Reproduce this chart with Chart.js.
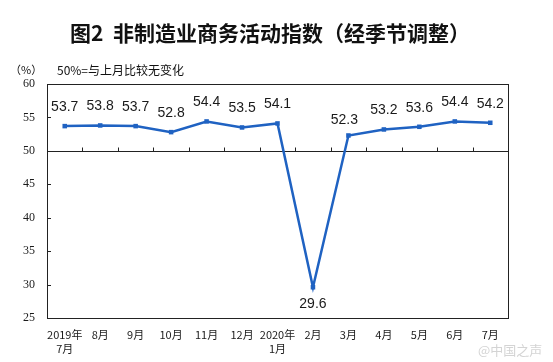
<!DOCTYPE html>
<html>
<head>
<meta charset="utf-8">
<script src="https://cdn.jsdelivr.net/npm/chart.js@4"></script>
<style>
    html, body { margin: 0; padding: 0; background: #ffffff; }
    #wrap { width: 553px; height: 362px; position: relative; }
</style>
</head>
<body>
<div id="wrap"><canvas id="nmiChart" width="553" height="362"></canvas></div>
<script>
const months = [
    ['2019年', '7月'], '8月', '9月', '10月', '11月', '12月',
    ['2020年', '1月'], '2月', '3月', '4月', '5月', '6月', '7月'
];
const indexValues = [53.7, 53.8, 53.7, 52.8, 54.4, 53.5, 54.1, 29.6, 52.3, 53.2, 53.6, 54.4, 54.2];
const yTicks = [25, 30, 35, 40, 45, 50, 55, 60];
const baseline = 50;

const titleText = '图2  非制造业商务活动指数（经季节调整）';
const unitText = '（%）';
const noteText = '50%=与上月比较无变化';
const markText = '@中国之声';

const lineBlue = '#1f62c2';
const cjkFont = '"Noto Sans CJK SC", "Noto Sans", sans-serif';

// title, baseline, frame, ticks and value labels
const decorPlugin = {
    id: 'decor',
    beforeDraw: function (chart) {
        const ctx = chart.ctx;
        ctx.save();
        ctx.fillStyle = '#111111';
        ctx.textBaseline = 'middle';
        ctx.textAlign = 'center';
        ctx.font = 'bold 21px ' + cjkFont;
        ctx.fillText(titleText, 270, 33);
        ctx.textAlign = 'left';
        ctx.font = '11px ' + cjkFont;
        ctx.fillText(unitText, 10, 70);
        ctx.font = '12px ' + cjkFont;
        ctx.fillText(noteText, 57, 70);
        ctx.fillStyle = '#d4d4d4';
        ctx.font = '13px ' + cjkFont;
        ctx.fillText(markText, 478, 350);
        ctx.restore();
    },
    beforeDatasetsDraw: function (chart) {
        const ctx = chart.ctx;
        const area = chart.chartArea;
        const xScale = chart.scales.x;
        const yScale = chart.scales.y;
        const baseY = Math.round(yScale.getPixelForValue(baseline)) + 0.5;
        ctx.save();
        ctx.strokeStyle = '#222222';
        ctx.lineWidth = 1;
        ctx.strokeRect(Math.round(area.left) + 0.5, Math.round(area.top) + 0.5,
            Math.round(area.right - area.left), Math.round(area.bottom - area.top));
        ctx.beginPath();
        ctx.moveTo(area.left, baseY);
        ctx.lineTo(area.right, baseY);
        // category boundary ticks on the 50 line
        for (let i = 1; i < months.length; i++) {
            const bx = Math.round((xScale.getPixelForValue(i - 1) + xScale.getPixelForValue(i)) / 2) + 0.5;
            ctx.moveTo(bx, baseY);
            ctx.lineTo(bx, baseY - 4);
        }
        // inward y ticks
        yTicks.forEach(function (v) {
            const ty = Math.round(yScale.getPixelForValue(v)) + 0.5;
            ctx.moveTo(area.left, ty);
            ctx.lineTo(area.left + 4, ty);
        });
        ctx.stroke();
        ctx.restore();
    },
    afterDatasetsDraw: function (chart) {
        const ctx = chart.ctx;
        const points = chart.getDatasetMeta(0).data;
        ctx.save();
        ctx.fillStyle = '#1a1a1a';
        ctx.font = '14px "Liberation Sans", Arial, sans-serif';
        ctx.textAlign = 'center';
        ctx.textBaseline = 'middle';
        points.forEach(function (pt, i) {
            const v = indexValues[i];
            let dx = 0;
            let dy = -19;
            if (v < baseline) {
                dy = 17;
            } else if (i > 0 && indexValues[i - 1] < baseline) {
                dx = -4;
                dy = -15;
            }
            ctx.fillText(v.toFixed(1), pt.x + dx, pt.y + dy);
        });
        ctx.restore();
    }
};

new Chart(document.getElementById('nmiChart'), {
    type: 'line',
    data: {
        labels: months,
        datasets: [{
            data: indexValues,
            borderColor: lineBlue,
            backgroundColor: lineBlue,
            borderWidth: 2.5,
            tension: 0,
            pointStyle: 'rect',
            pointRadius: 3.2,
            pointBorderWidth: 0,
            pointBackgroundColor: lineBlue
        }]
    },
    options: {
        responsive: false,
        animation: false,
        events: [],
        layout: {
            padding: { left: 0, right: 45, top: 84, bottom: 0 }
        },
        plugins: {
            legend: { display: false },
            tooltip: { enabled: false }
        },
        scales: {
            x: {
                offset: true,
                grid: { display: false, drawTicks: false },
                border: { display: false },
                ticks: {
                    color: '#1a1a1a',
                    padding: 10,
                    maxRotation: 0,
                    autoSkip: false,
                    font: { family: cjkFont, size: 11, lineHeight: 1.27 }
                },
                afterFit: function (scale) {
                    scale.height = 44;
                }
            },
            y: {
                min: 25,
                max: 60,
                grid: { display: false, drawTicks: false },
                border: { display: false },
                afterBuildTicks: function (scale) {
                    scale.ticks = yTicks.map(function (v) { return { value: v }; });
                },
                ticks: {
                    color: '#1a1a1a',
                    padding: 12,
                    font: { family: '"Liberation Serif", serif', size: 12 }
                },
                afterFit: function (scale) {
                    scale.width = 47;
                }
            }
        }
    },
    plugins: [decorPlugin]
});
</script>
</body>
</html>
